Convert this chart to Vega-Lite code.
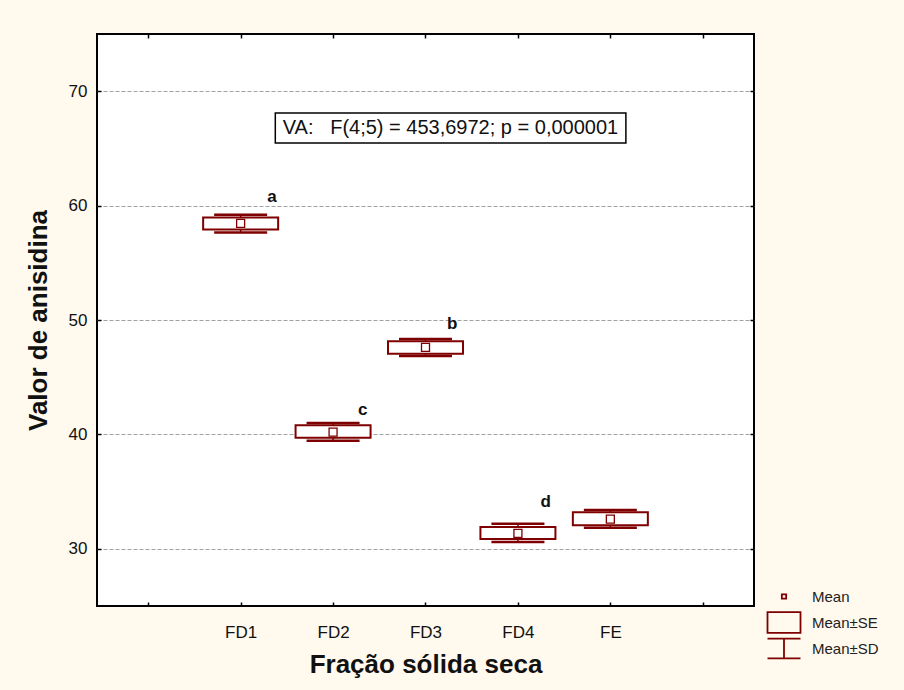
{
  "$schema": "https://vega.github.io/schema/vega-lite/v6.json",
  "width": 657,
  "height": 572,
  "autosize": {"type": "none"},
  "padding": {"left": 97, "top": 34, "right": 150, "bottom": 84},
  "background": "#FFF9EE",
  "config": {
    "view": {"stroke": "#000000", "strokeWidth": 2, "fill": "white"},
    "font": "Liberation Sans",
    "axis": {"labelFont": "Liberation Sans", "titleFont": "Liberation Sans", "labelColor": "#111", "titleColor": "#111"}
  },
  "datasets": {
    "stats": [
      {"fracao": "FD1", "pos": 1, "media": 58.45, "seMin": 57.9, "seMax": 58.95, "sdMin": 57.65, "sdMax": 59.2},
      {"fracao": "FD2", "pos": 2, "media": 40.2, "seMin": 39.7, "seMax": 40.8, "sdMin": 39.45, "sdMax": 41.0},
      {"fracao": "FD3", "pos": 3, "media": 47.6, "seMin": 47.05, "seMax": 48.15, "sdMin": 46.85, "sdMax": 48.35},
      {"fracao": "FD4", "pos": 4, "media": 31.35, "seMin": 30.85, "seMax": 31.9, "sdMin": 30.6, "sdMax": 32.2},
      {"fracao": "FE", "pos": 5, "media": 32.6, "seMin": 32.05, "seMax": 33.2, "sdMin": 31.85, "sdMax": 33.4}
    ],
    "letras": [
      {"letra": "a", "x": 1.34, "y": 60.75},
      {"letra": "c", "x": 2.32, "y": 42.13},
      {"letra": "b", "x": 3.29, "y": 49.65},
      {"letra": "d", "x": 4.3, "y": 34.09}
    ],
    "anova": [
      {"x": 1.375, "x2": 5.168, "y": 65.47, "y2": 68.09, "tx": 3.27, "ty": 66.78, "texto": "VA:\u00a0\u00a0 F(4;5) = 453,6972; p = 0,000001"}
    ]
  },
  "layer": [
    {
      "data": {"name": "stats"},
      "mark": {"type": "rule", "color": "#7f0000", "strokeWidth": 1.5},
      "encoding": {
        "x": {
          "field": "pos", "type": "quantitative",
          "scale": {"domain": [-0.5, 6.5], "nice": false, "zero": false},
          "axis": {
            "orient": "bottom", "values": [0, 1, 2, 3, 4, 5, 6],
            "labelExpr": "['', 'FD1', 'FD2', 'FD3', 'FD4', 'FE', ''][datum.value]",
            "tickSize": -4, "tickColor": "#000", "tickWidth": 1.5, "domain": false, "grid": false,
            "labelFontSize": 17, "labelPadding": 22, "labelBaseline": "top",
            "title": "Fração sólida seca", "titleFontSize": 26, "titleFontWeight": "bold",
            "titleY": 58, "titleBaseline": "middle"
          }
        },
        "y": {
          "field": "sdMin", "type": "quantitative",
          "scale": {"domain": [25, 75], "nice": false, "zero": false},
          "axis": {
            "orient": "left", "values": [30, 40, 50, 60, 70],
            "grid": true, "gridDash": [4, 2], "gridColor": "#a0a0a0", "gridWidth": 1,
            "tickSize": -4, "tickColor": "#000", "tickWidth": 1.5, "domain": false,
            "labelFontSize": 17, "labelPadding": 14,
            "title": "Valor de anisidina", "titleFontSize": 26, "titleFontWeight": "bold",
            "titleX": -59, "titleY": 286, "titleAngle": -90, "titleBaseline": "middle", "titleAlign": "center"
          }
        },
        "y2": {"field": "sdMax"}
      }
    },
    {
      "data": {"name": "stats"},
      "mark": {"type": "tick", "orient": "horizontal", "size": 53, "thickness": 2.5, "color": "#7f0000", "opacity": 1},
      "encoding": {
        "x": {
          "field": "pos", "type": "quantitative",
          "axis": {"orient": "top", "values": [0, 1, 2, 3, 4, 5, 6], "labels": false, "title": null, "tickSize": -4, "tickColor": "#000", "tickWidth": 1.5, "domain": false, "grid": false}
        },
        "y": {
          "field": "sdMin", "type": "quantitative",
          "axis": {"orient": "right", "values": [30, 40, 50, 60, 70], "labels": false, "title": null, "tickSize": -4, "tickColor": "#000", "tickWidth": 1.5, "domain": false, "grid": false}
        }
      }
    },
    {
      "data": {"name": "stats"},
      "mark": {"type": "tick", "orient": "horizontal", "size": 53, "thickness": 2.5, "color": "#7f0000", "opacity": 1},
      "encoding": {
        "x": {"field": "pos", "type": "quantitative", "axis": null},
        "y": {"field": "sdMax", "type": "quantitative", "axis": null}
      }
    },
    {
      "data": {"name": "stats"},
      "mark": {"type": "bar", "width": 75, "fill": "white", "stroke": "#7f0000", "strokeWidth": 2},
      "encoding": {
        "x": {"field": "pos", "type": "quantitative", "axis": null},
        "y": {"field": "seMin", "type": "quantitative", "axis": null},
        "y2": {"field": "seMax"}
      }
    },
    {
      "data": {"name": "stats"},
      "mark": {"type": "point", "filled": false, "size": 1505, "color": "#7f0000", "strokeWidth": 1.3, "opacity": 1},
      "encoding": {
        "x": {"field": "pos", "type": "quantitative", "axis": null},
        "y": {"field": "media", "type": "quantitative", "axis": null},
        "shape": {
          "datum": "Mean",
          "scale": {
            "domain": ["Mean", "Mean±SE", "Mean±SD"],
            "range": [
              "M-1.6,-0.983M1.6,0.983M-0.206,-0.206H0.206V0.206H-0.206Z",
              "M-1.6,-0.983M1.6,0.983M-1.571,-0.983H1.571V0.983H-1.571Z",
              "M-1.6,-0.983M1.6,0.983M-1.571,-0.937H1.571M0,-0.937V0.937M-1.571,0.937H1.571"
            ]
          },
          "legend": {
            "title": null, "orient": "none", "legendX": 675.5, "legendY": 551,
            "padding": 0, "symbolSize": 441, "rowPadding": -8,
            "symbolStrokeWidth": 1.8, "symbolOpacity": 1,
            "labelFontSize": 15, "labelFont": "Liberation Sans", "labelColor": "#222", "labelOffset": 16.5,
            "encode": {"symbols": {"stroke": {"value": "#7f0000"}, "fill": {"value": "transparent"}, "strokeWidth": {"value": 1.8}, "opacity": {"value": 1}}}
          }
        }
      }
    },
    {
      "data": {"name": "letras"},
      "mark": {"type": "text", "fontSize": 17, "fontWeight": "bold", "color": "#111", "baseline": "middle", "align": "center"},
      "encoding": {
        "x": {"field": "x", "type": "quantitative", "axis": null},
        "y": {"field": "y", "type": "quantitative", "axis": null},
        "text": {"field": "letra"}
      }
    },
    {
      "data": {"name": "anova"},
      "mark": {"type": "rect", "fill": "white", "stroke": "#000", "strokeWidth": 1.5},
      "encoding": {
        "x": {"field": "x", "type": "quantitative", "axis": null},
        "x2": {"field": "x2"},
        "y": {"field": "y", "type": "quantitative", "axis": null},
        "y2": {"field": "y2"}
      }
    },
    {
      "data": {"name": "anova"},
      "mark": {"type": "text", "fontSize": 20, "color": "#111", "baseline": "middle", "align": "center"},
      "encoding": {
        "x": {"field": "tx", "type": "quantitative", "axis": null},
        "y": {"field": "ty", "type": "quantitative", "axis": null},
        "text": {"field": "texto"}
      }
    }
  ]
}
